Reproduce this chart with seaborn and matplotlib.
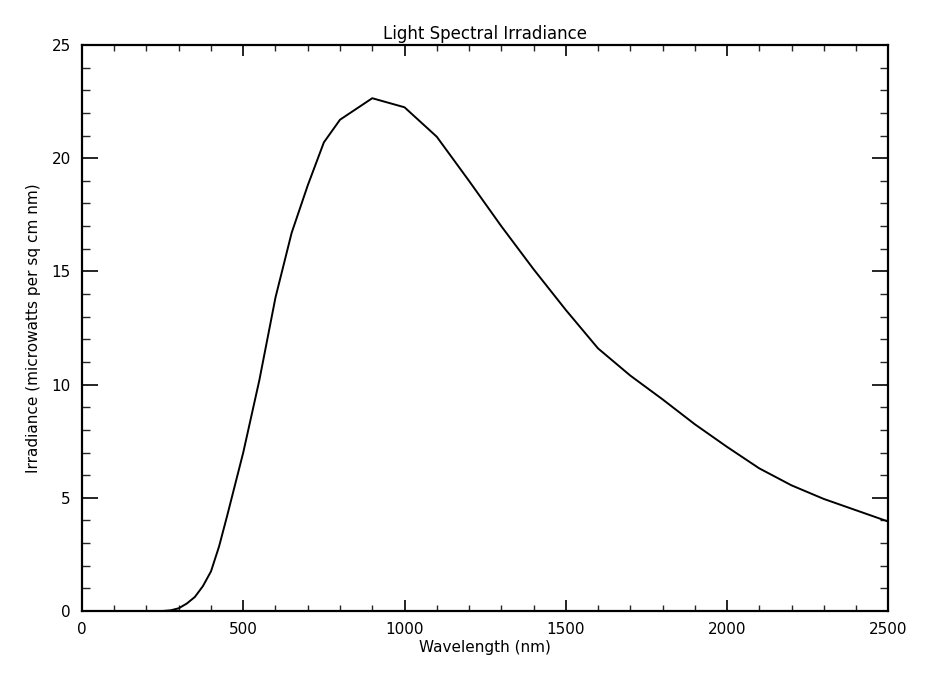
import matplotlib
matplotlib.use("Agg")
import matplotlib.pyplot as plt
from matplotlib.ticker import MultipleLocator
import seaborn as sns
import pandas as pd

wavelength = [250, 275, 300, 325, 350, 375, 400, 425, 450, 475, 500, 550, 600,
              650, 700, 750, 800, 900, 1000, 1100, 1200, 1300, 1400, 1500,
              1600, 1700, 1800, 1900, 2000, 2100, 2200, 2300, 2400, 2500]
irradiance = [0.0, 0.03, 0.12, 0.33, 0.62, 1.1, 1.75, 2.85, 4.2, 5.6, 7.0, 10.2,
              13.85, 16.7, 18.8, 20.7, 21.7, 22.65, 22.25, 20.95, 19.0, 17.0,
              15.1, 13.3, 11.6, 10.4, 9.35, 8.25, 7.25, 6.3, 5.55, 4.95, 4.45,
              3.95]

title = "Light Spectral Irradiance"
xlabel = "Wavelength (nm)"
ylabel = "Irradiance (microwatts per sq cm nm)"

sns.set_theme(style="ticks")
plt.rcParams["font.family"] = ["DejaVu Sans"]
plt.rcParams["text.color"] = "black"
plt.rcParams["axes.labelcolor"] = "black"

df = pd.DataFrame({"wavelength": wavelength, "irradiance": irradiance})

fig = plt.figure(figsize=(9.37, 6.77), dpi=100)
ax = fig.add_axes([0.0875, 0.0975, 0.8605, 0.836])
sns.lineplot(data=df, x="wavelength", y="irradiance", color="black",
             linewidth=1.4, ax=ax)

ax.set_xlim(0, 2500)
ax.set_ylim(0, 25)
ax.xaxis.set_major_locator(MultipleLocator(500))
ax.xaxis.set_minor_locator(MultipleLocator(100))
ax.yaxis.set_major_locator(MultipleLocator(5))
ax.yaxis.set_minor_locator(MultipleLocator(1))

for s in ax.spines.values():
    s.set_visible(True)
    s.set_linewidth(1.6)
    s.set_color("black")

ax.tick_params(axis="x", which="major", direction="in", length=8, width=1.2,
               top=True, bottom=True, labelsize=11, pad=8, colors="black")
ax.tick_params(axis="x", which="minor", direction="in", length=4, width=1.0,
               top=True, bottom=True)
ax.tick_params(axis="y", which="major", direction="in", length=11.5, width=1.2,
               left=True, right=True, labelsize=11, pad=8, colors="black")
ax.tick_params(axis="y", which="minor", direction="in", length=5.8, width=1.0,
               left=True, right=True)

ax.set_title(title, fontsize=12, pad=4, color="black")
ax.set_xlabel(xlabel, fontsize=11, labelpad=2, color="black")
ax.set_ylabel(ylabel, fontsize=11, labelpad=8, color="black")

fig.savefig("out.png", dpi=100, facecolor="white")
